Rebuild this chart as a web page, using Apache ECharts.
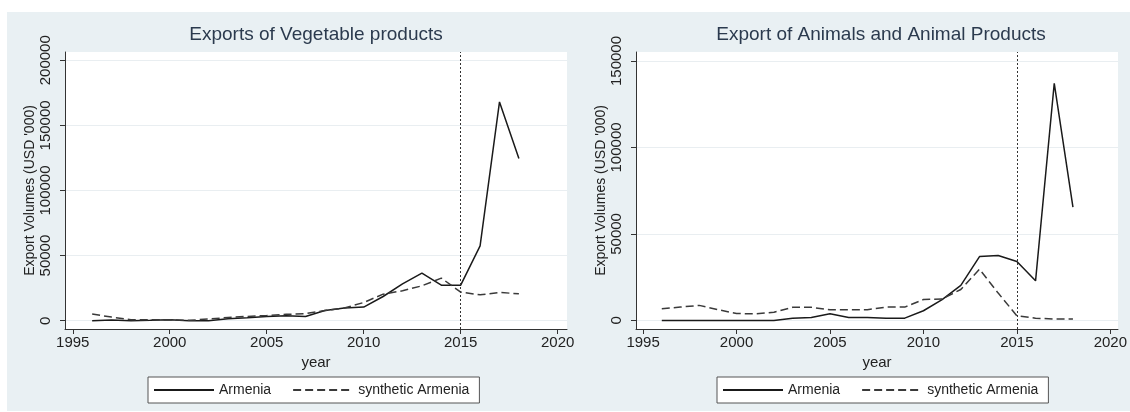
<!DOCTYPE html>
<html>
<head>
<meta charset="utf-8">
<script src="https://cdn.jsdelivr.net/npm/echarts@6/dist/echarts.min.js"></script>
<style>
html, body { margin: 0; padding: 0; background: #fff; }
#chart { width: 1130px; height: 412px; }
</style>
</head>
<body>
<div id="chart"></div>
<script>
// data (USD '000)
const years = [1996, 1997, 1998, 1999, 2000, 2001, 2002, 2003, 2004, 2005, 2006, 2007,
    2008, 2009, 2010, 2011, 2012, 2013, 2014, 2015, 2016, 2017, 2018];
const vegArmenia = [0, 500, 0, 300, 700, 0, 0, 1500, 2200, 3300, 3800, 3300,
    7900, 9700, 10500, 18600, 28300, 36500, 27300, 27300, 57500, 168000, 124500];
const vegSynthetic = [5100, 2800, 800, 800, 800, 300, 1300, 2500, 3300, 4000, 4900, 5400,
    7900, 9700, 14000, 20400, 23000, 26800, 32700, 22000, 19900, 21700, 20700];
const animArmenia = [0, 0, 0, 0, 0, 0, 0, 1300, 1700, 3800, 1700, 1700,
    1300, 1300, 5600, 12000, 20300, 36900, 37500, 34100, 22900, 137100, 65500];
const animSynthetic = [6700, 7700, 8700, 6200, 4000, 3800, 4700, 7600, 7600, 6200, 6200, 6200,
    7700, 7700, 12100, 12400, 17900, 29600, 15800, 2700, 1300, 800, 800];
const xTicks = [1995, 2000, 2005, 2010, 2015, 2020];
const vegYTicks = [0, 50000, 100000, 150000, 200000];
const animYTicks = [0, 50000, 100000, 150000];
const treatmentYear = 2015;
const titles = ['Exports of Vegetable products', 'Export of Animals and Animal Products'];
const legendNames = ['Armenia', 'synthetic Armenia'];

const FONT = "'Liberation Sans', Arial, sans-serif";
const INK = '#222';

function pairs(vals) {
    return years.map(function (y, i) { return [y, vals[i]]; });
}

function xAxisFor(idx, min, max) {
    return {
        gridIndex: idx,
        type: 'value',
        min: min,
        max: max,
        name: 'year',
        nameLocation: 'middle',
        nameGap: 23,
        nameTextStyle: { fontSize: 15, color: INK, fontFamily: FONT },
        axisLine: { show: true, onZero: false, lineStyle: { color: '#333', width: 1 } },
        axisTick: { show: true, customValues: xTicks, length: 5, lineStyle: { color: '#333' } },
        axisLabel: {
            customValues: xTicks, margin: 6, fontSize: 15, color: INK, fontFamily: FONT,
            formatter: function (v) { return String(v); }
        },
        splitLine: { show: false }
    };
}

function yAxisFor(idx, min, max, ticks) {
    return {
        gridIndex: idx,
        type: 'value',
        min: min,
        max: max,
        name: "Export Volumes (USD '000)",
        nameLocation: 'middle',
        nameGap: 26,
        nameTextStyle: { fontSize: 14, color: INK, fontFamily: FONT },
        axisLine: { show: true, onZero: false, lineStyle: { color: '#333', width: 1 } },
        axisTick: { show: true, customValues: ticks, length: 5, lineStyle: { color: '#333' } },
        axisLabel: {
            customValues: ticks, rotate: 90, margin: 12, fontSize: 15, color: INK, fontFamily: FONT,
            formatter: function (v) { return String(v); }
        },
        splitLine: { show: true, lineStyle: { color: '#e9eef1', width: 1 } }
    };
}

function lineSeries(name, idx, vals, dashed) {
    const s = {
        name: name,
        type: 'line',
        xAxisIndex: idx,
        yAxisIndex: idx,
        data: pairs(vals),
        symbol: 'none',
        silent: true,
        lineStyle: dashed
            ? { color: '#3a3a3a', width: 1.5, type: [8, 4] }
            : { color: '#1a1a1a', width: 1.5 },
        itemStyle: { color: dashed ? '#3a3a3a' : '#1a1a1a' }
    };
    if (!dashed) {
        s.markLine = {
            silent: true,
            symbol: ['none', 'none'],
            label: { show: false },
            lineStyle: { color: '#333', width: 1, type: [2, 2] },
            data: [{ xAxis: treatmentYear }]
        };
    }
    return s;
}

function legendFor(left) {
    return {
        data: legendNames,
        left: left,
        top: 377,
        orient: 'horizontal',
        padding: [6, 10, 6, 5],
        itemGap: 21,
        itemWidth: 60,
        itemHeight: 14,
        backgroundColor: '#fff',
        borderColor: '#555',
        borderWidth: 1,
        borderRadius: 0,
        selectedMode: false,
        // hide the marker dot, keep only the line sample
        itemStyle: { opacity: 0 },
        textStyle: { fontSize: 14, color: INK, fontFamily: FONT }
    };
}

const chart = echarts.init(document.getElementById('chart'), null, { renderer: 'canvas' });
chart.setOption({
    animation: false,
    backgroundColor: '#fff',
    textStyle: { fontFamily: FONT },
    graphic: [{
        type: 'rect',
        z: -10,
        silent: true,
        shape: { x: 7, y: 12, width: 1123, height: 399 },
        style: { fill: '#e9f0f3' }
    }],
    title: [{
        text: titles[0], left: 316, top: 25, textAlign: 'center', padding: 0,
        textStyle: { fontSize: 19, fontWeight: 'normal', color: '#2b3a4e', fontFamily: FONT }
    }, {
        text: titles[1], left: 881, top: 25, textAlign: 'center', padding: 0,
        textStyle: { fontSize: 19, fontWeight: 'normal', color: '#2b3a4e', fontFamily: FONT }
    }],
    legend: [legendFor(148), legendFor(717)],
    grid: [{
        left: 65, top: 52, width: 502, height: 277,
        show: true, backgroundColor: '#fff', borderWidth: 0
    }, {
        left: 636, top: 52, width: 490, height: 277,
        show: true, backgroundColor: '#fff', borderWidth: 0
    }],
    xAxis: [xAxisFor(0, 1994.6, 2020.48), xAxisFor(1, 1994.62, 2020.41)],
    yAxis: [yAxisFor(0, -6360, 206360, vegYTicks), yAxisFor(1, -4960, 155190, animYTicks)],
    series: [
        lineSeries(legendNames[0], 0, vegArmenia, false),
        lineSeries(legendNames[1], 0, vegSynthetic, true),
        lineSeries(legendNames[0], 1, animArmenia, false),
        lineSeries(legendNames[1], 1, animSynthetic, true)
    ]
});
</script>
</body>
</html>
